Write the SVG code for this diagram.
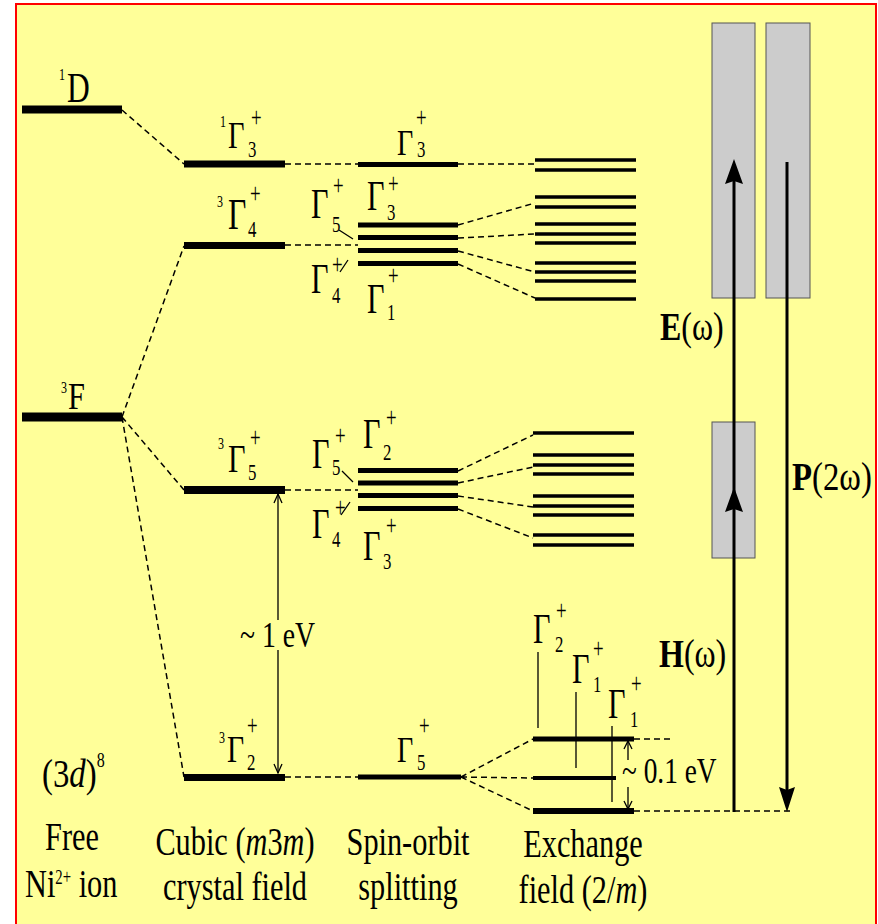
<svg xmlns="http://www.w3.org/2000/svg" width="878" height="924" viewBox="0 0 878 924">
<style>
text{font-family:"Liberation Serif","Times New Roman",serif;fill:#000}
.lv{stroke:#000;fill:none}
.d{stroke:#000;stroke-width:1.5;stroke-dasharray:6 4;fill:none}
.thin{stroke:#000;stroke-width:1.3;fill:none}
.box{fill:#CCCCCC;stroke:#555;stroke-width:1}
.big{stroke:#000;stroke-width:3;fill:none}
.g{font-size:42px}
.s{font-size:24px}
.p{font-size:29px}
.pre{font-size:16px}
.lab{font-size:41px}
</style>
<rect x="0" y="0" width="878" height="924" fill="#fff"/>
<rect x="16" y="4" width="860" height="940" fill="#FFFF99" stroke="#FF0000" stroke-width="2"/>

<g id="connectors">
<path class="d" d="M122,110L184,164M122,417L184,246M122,417L184,490M122,417L184,777"/>
<path class="d" d="M285,164H358M285,245H358M285,490H358M285,777H358"/>
<path class="d" d="M458,164L535,164M458,225L535,203M458,238L535,234M458,251L535,272M458,264L535,298"/>
<path class="d" d="M458,471L533,435M458,483L533,467M458,496L533,507M458,509L533,538"/>
<path class="d" d="M461,777L533,739M461,777L533,778M461,777L533,811"/>
<path class="d" d="M634,739H670M634,811H790"/>
<path class="thin" d="M339,230L353,239M340,272L348,260M342,471L353,482M341,515L350,502"/>
<path class="thin" d="M538,652V728M576,692V768M612,726V802"/>
</g>

<g id="free-ion">
<path class="lv" stroke-width="8" d="M22,109.5H122"/>
<path class="lv" stroke-width="9" d="M22,417H122"/>
<text class="pre" transform="translate(59,80) scale(0.75,1)">1</text>
<text font-size="42" transform="translate(67,102) scale(0.75,1)">D</text>
<text class="pre" transform="translate(61,393) scale(0.75,1)">3</text>
<text font-size="38" transform="translate(68,409) scale(0.8,1)">F</text>
</g>

<g id="cubic">
<path class="lv" stroke-width="7" d="M184,164H285M184,245.5H285M184,777.5H285"/>
<path class="lv" stroke-width="8" d="M184,490H285"/>
<text class="pre" transform="translate(220,127) scale(0.75,1)">1</text>
<text font-size="38" transform="translate(228,148) scale(0.75,1)">Γ</text>
<text class="s" transform="translate(248,157) scale(0.7,1)">3</text>
<text class="p" transform="translate(251,127) scale(0.65,1)">+</text>

<text class="pre" transform="translate(217,207) scale(0.75,1)">3</text>
<text font-size="44" transform="translate(228,229) scale(0.72,1)">Γ</text>
<text class="s" transform="translate(248,237) scale(0.7,1)">4</text>
<text class="p" transform="translate(250,203) scale(0.65,1)">+</text>

<text class="pre" transform="translate(218,449) scale(0.75,1)">3</text>
<text font-size="41" transform="translate(228,472) scale(0.74,1)">Γ</text>
<text class="s" transform="translate(248,480) scale(0.7,1)">5</text>
<text class="p" transform="translate(250,447) scale(0.65,1)">+</text>

<text class="pre" transform="translate(219,743) scale(0.75,1)">3</text>
<text font-size="38" transform="translate(227,762) scale(0.78,1)">Γ</text>
<text class="s" transform="translate(247,770) scale(0.7,1)">2</text>
<text class="p" transform="translate(247,735) scale(0.65,1)">+</text>

<path class="thin" d="M278,494V620M278,650V773"/>
<path class="thin" d="M274,503L278,494L282,503M274,764L278,773L282,764"/>
<text font-size="36" transform="translate(240,647) scale(0.77,1)">~ 1 eV</text>
</g>

<g id="spin-orbit">
<path class="lv" stroke-width="5" d="M358,164.5H458M358,225H458M358,237.5H458M358,250.5H458M358,263.5H458M358,470.5H458M358,483H458M358,495.5H458M358,508.5H458M358,777H461"/>
<text font-size="36" transform="translate(397,155) scale(0.78,1)">Γ</text>
<text class="s" transform="translate(417,157) scale(0.7,1)">3</text>
<text class="p" transform="translate(416,127) scale(0.65,1)">+</text>

<text class="g" transform="translate(367,210) scale(0.72,1)">Γ</text>
<text class="s" transform="translate(387,220) scale(0.7,1)">3</text>
<text class="p" transform="translate(388,193) scale(0.65,1)">+</text>

<text class="g" transform="translate(311,218) scale(0.72,1)">Γ</text>
<text class="s" transform="translate(332,232) scale(0.7,1)">5</text>
<text class="p" transform="translate(333,195) scale(0.65,1)">+</text>

<text class="g" transform="translate(311,293) scale(0.72,1)">Γ</text>
<text class="s" transform="translate(332,303) scale(0.7,1)">4</text>
<text class="p" transform="translate(332,274) scale(0.65,1)">+</text>

<text class="g" transform="translate(367,313) scale(0.72,1)">Γ</text>
<text class="s" transform="translate(387,320) scale(0.7,1)">1</text>
<text class="p" transform="translate(388,285) scale(0.65,1)">+</text>

<text class="g" transform="translate(312,468) scale(0.72,1)">Γ</text>
<text class="s" transform="translate(332,475) scale(0.7,1)">5</text>
<text class="p" transform="translate(335,445) scale(0.65,1)">+</text>

<text class="g" transform="translate(312,538) scale(0.72,1)">Γ</text>
<text class="s" transform="translate(332,547) scale(0.7,1)">4</text>
<text class="p" transform="translate(335,517) scale(0.65,1)">+</text>

<text class="g" transform="translate(363,448) scale(0.72,1)">Γ</text>
<text class="s" transform="translate(383,460) scale(0.7,1)">2</text>
<text class="p" transform="translate(386,427) scale(0.65,1)">+</text>

<text class="g" transform="translate(363,560) scale(0.72,1)">Γ</text>
<text class="s" transform="translate(383,569) scale(0.7,1)">3</text>
<text class="p" transform="translate(386,535) scale(0.65,1)">+</text>

<text font-size="36" transform="translate(397,762) scale(0.78,1)">Γ</text>
<text class="s" transform="translate(417,770) scale(0.7,1)">5</text>
<text class="p" transform="translate(419,735) scale(0.65,1)">+</text>
</g>

<g id="exchange">
<path class="lv" stroke-width="3.5" d="M535,160H636M535,170H636M535,197H636M535,207H636M535,224H636M535,234H636M535,243H636M535,263H636M535,272H636M535,281H636M535,299H636"/>
<path class="lv" stroke-width="3.5" d="M533,433H634M533,455H634M533,465H634M533,474H634M533,496H634M533,506H634M533,515H634M533,535H634M533,545H634"/>
<path class="lv" stroke-width="5" d="M533,739H634"/>
<path class="lv" stroke-width="4" d="M533,778H616"/>
<path class="lv" stroke-width="6" d="M533,811H634"/>

<text class="g" transform="translate(533,643) scale(0.72,1)">Γ</text>
<text class="s" transform="translate(555,652) scale(0.7,1)">2</text>
<text class="p" transform="translate(556,620) scale(0.65,1)">+</text>

<text class="g" transform="translate(572,683) scale(0.72,1)">Γ</text>
<text class="s" transform="translate(593,692) scale(0.7,1)">1</text>
<text class="p" transform="translate(593,658) scale(0.65,1)">+</text>

<text class="g" transform="translate(608,718) scale(0.72,1)">Γ</text>
<text class="s" transform="translate(630,727) scale(0.7,1)">1</text>
<text class="p" transform="translate(631,693) scale(0.65,1)">+</text>

<path class="thin" d="M628,741V760M628,787V809"/>
<path class="thin" d="M624,749L628,741L632,749M624,801L628,809L632,801"/>
<text font-size="36" transform="translate(622,783) scale(0.76,1)">~ 0.1 eV</text>
</g>

<g id="fields">
<rect class="box" x="712" y="23" width="43" height="275"/>
<rect class="box" x="766" y="23" width="44" height="275"/>
<rect class="box" x="712" y="422" width="43" height="136"/>
<path class="big" d="M734,812V180"/>
<path d="M734,159L725,184L734,181L743,184Z"/>
<path d="M734,487L725,512L734,509L743,512Z"/>
<path class="big" d="M787,162V792"/>
<path d="M787,812L779,787L787,790L795,787Z"/>
<text font-size="40" transform="translate(660,340) scale(0.8,1)"><tspan font-weight="bold">E</tspan>(ω)</text>
<text font-size="40" transform="translate(659,667) scale(0.8,1)"><tspan font-weight="bold">H</tspan>(ω)</text>
<text font-size="41" transform="translate(792,490) scale(0.8,1)"><tspan font-weight="bold">P</tspan>(2ω)</text>
</g>

<g id="captions">
<text class="lab" transform="translate(42,787) scale(0.8,1)">(3<tspan font-style="italic">d</tspan>)<tspan font-size="20" dy="-20">8</tspan></text>
<text class="lab" text-anchor="middle" transform="translate(72,850) scale(0.74,1)">Free</text>
<text class="lab" transform="translate(25,897) scale(0.74,1)">Ni<tspan font-size="20" dy="-13">2+</tspan><tspan dy="13"> ion</tspan></text>
<text class="lab" text-anchor="middle" transform="translate(235,855) scale(0.74,1)">Cubic (<tspan font-style="italic">m</tspan>3<tspan font-style="italic">m</tspan>)</text>
<text class="lab" text-anchor="middle" transform="translate(235,900) scale(0.74,1)">crystal field</text>
<text class="lab" text-anchor="middle" transform="translate(408,855) scale(0.74,1)">Spin-orbit</text>
<text class="lab" text-anchor="middle" transform="translate(408,900) scale(0.74,1)">splitting</text>
<text class="lab" text-anchor="middle" transform="translate(583,857) scale(0.74,1)">Exchange</text>
<text class="lab" text-anchor="middle" transform="translate(583,903) scale(0.74,1)">field (2/<tspan font-style="italic">m</tspan>)</text>
</g>
</svg>
